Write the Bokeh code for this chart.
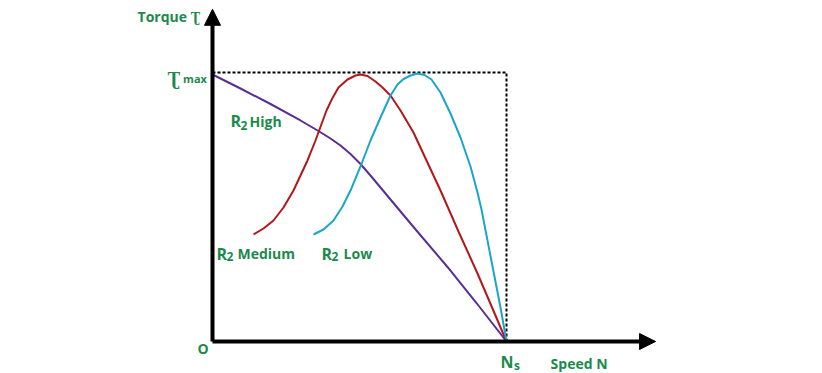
from bokeh.plotting import figure
from bokeh.models import Range1d, Arrow, NormalHead, Label
from bokeh.embed import file_html
from bokeh.resources import INLINE

# ---- data (speed as fraction of Ns, torque as fraction of Tmax) ----
NS = 1.0
TMAX = 1.0
X_AXIS_END = 1.507
Y_AXIS_END = 1.235

speed_high = [0.0, 0.0952, 0.1973, 0.2993, 0.3605, 0.4014, 0.4354, 0.4694, 0.5034, 0.5374,
              0.5714, 0.6837, 0.7993, 0.8980, 1.0]
torque_high = [0.9926, 0.9405, 0.8829, 0.8216, 0.7825, 0.7546, 0.7286, 0.6970, 0.6599, 0.6171,
               0.5725, 0.4257, 0.2770, 0.1431, 0.0]

speed_medium = [0.1395, 0.1735, 0.2075, 0.2415, 0.2755, 0.3231, 0.3503, 0.3878, 0.4082, 0.4286,
                0.4592, 0.4864, 0.5034, 0.5272, 0.5544, 0.5782, 0.6054, 0.6395, 0.6837, 0.7279,
                0.7755, 0.8367, 0.9014, 0.9524, 1.0]
torque_medium = [0.3978, 0.4201, 0.4498, 0.4981, 0.5613, 0.6729, 0.7472, 0.8587, 0.9056, 0.9442,
                 0.9740, 0.9888, 0.9926, 0.9870, 0.9665, 0.9442, 0.9145, 0.8587, 0.7770, 0.6729,
                 0.5613, 0.4089, 0.2528, 0.1227, 0.0]

speed_low = [0.3435, 0.3776, 0.4116, 0.4422, 0.4694, 0.5034, 0.5374, 0.5714, 0.6054, 0.6293,
             0.6497, 0.6735, 0.6973, 0.7211, 0.7449, 0.7755, 0.8095, 0.8435, 0.8776, 0.9014,
             0.9150, 0.9558, 0.9796, 1.0]
torque_low = [0.3978, 0.4164, 0.4498, 0.5019, 0.5613, 0.6506, 0.7472, 0.8327, 0.9145, 0.9554,
              0.9758, 0.9888, 0.9963, 0.9907, 0.9740, 0.9257, 0.8476, 0.7584, 0.6506, 0.5539,
              0.4907, 0.2602, 0.1264, 0.0]

y_title = "Torque Ʈ"
x_title = "Speed N"
tmax_main, tmax_sub = "Ʈ", "max"
ns_main, ns_sub = "N", "s"
origin_text = "O"
curve_names = ["High", "Medium", "Low"]

# ---- figure ----
GREEN = "#1b8a4c"
FONT = "Open Sans"

p = figure(width=822, height=373, output_backend="svg", toolbar_location=None,
           x_range=Range1d(-0.72109, 2.07483), y_range=Range1d(-0.11896, 1.26766),
           min_border=0, x_axis_type=None, y_axis_type=None)
p.grid.visible = False
p.outline_line_color = None
p.background_fill_color = "white"

# dashed Tmax / Ns guides
p.line([0, NS, NS], [TMAX, TMAX, 0], line_color="black", line_width=2, line_dash="3 2")

# curves
p.line(speed_high, torque_high, line_color="#5b2d96", line_width=2)
p.line(speed_medium, torque_medium, line_color="#b3171c", line_width=2)
p.line(speed_low, torque_low, line_color="#1ba6c9", line_width=2)

# axes with arrowheads
for xe, ye in [(0, Y_AXIS_END), (X_AXIS_END, 0)]:
    p.add_layout(Arrow(end=NormalHead(size=16, fill_color="black", line_color="black", line_width=1),
                       x_start=0, y_start=0, x_end=xe, y_end=ye,
                       line_color="black", line_width=4))


def lab(x, y, text, size, align="left", baseline="alphabetic"):
    p.add_layout(Label(x=x, y=y, text=text, text_font=FONT, text_font_style="bold",
                       text_font_size=f"{size}px", text_color=GREEN,
                       text_align=align, text_baseline=baseline))


lab(-0.255, 1.210, y_title, 14)
lab(-0.153, 0.978, tmax_main, 19)
lab(-0.100, 0.978, tmax_sub, 11)

# R2 High
lab(0.061, 0.818, "R", 16)
lab(0.095, 0.803, "2", 12)
lab(0.126, 0.818, curve_names[0], 14)
# R2 Medium
lab(0.0136, 0.327, "R", 16)
lab(0.0476, 0.316, "2", 12)
lab(0.085, 0.327, curve_names[1], 14)
# R2 Low
lab(0.371, 0.327, "R", 16)
lab(0.405, 0.316, "2", 12)
lab(0.446, 0.327, curve_names[2], 14)

lab(-0.032, -0.026, origin_text, 14, align="center", baseline="middle")
lab(0.980, -0.0780, ns_main, 16)
lab(1.0255, -0.0900, ns_sub, 12)
lab(1.150, -0.0818, x_title, 14)

open("out.html", "w").write(file_html(p, INLINE))
